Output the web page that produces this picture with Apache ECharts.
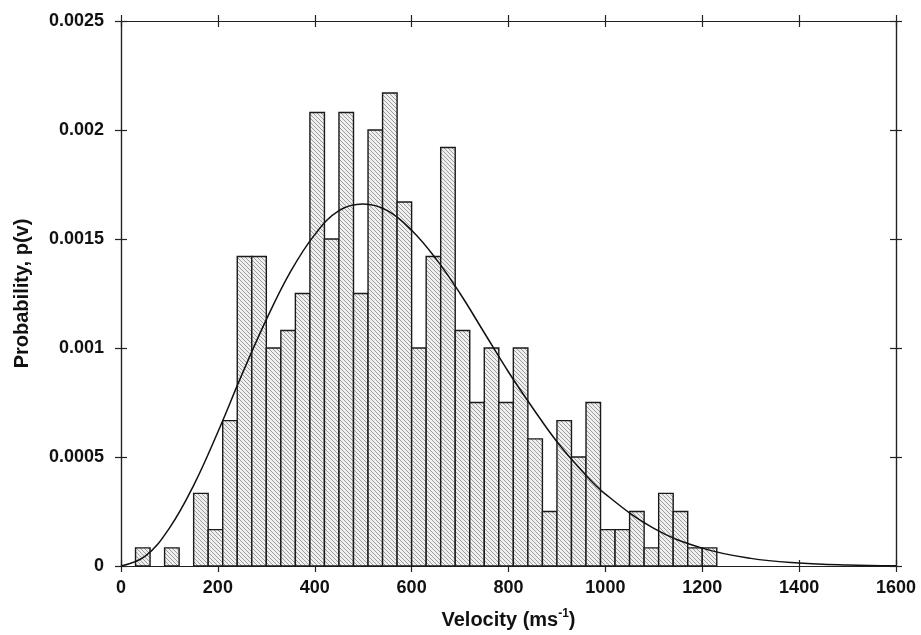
<!DOCTYPE html>
<html>
<head>
<meta charset="utf-8">
<script src="https://cdn.jsdelivr.net/npm/echarts@6/dist/echarts.min.js"></script>
<style>
  html, body { margin: 0; padding: 0; background: #fff; }
  #chart { width: 921px; height: 635px; }
</style>
</head>
<body>
<div id="chart"></div>
<script>
// histogram bins (left edge, m/s), width 30
const binWidth = 30
const binLeft = [0, 30, 60, 90, 120, 150, 180, 210, 240, 270, 300, 330, 360, 390, 420, 450, 480, 510, 540, 570,
  600, 630, 660, 690, 720, 750, 780, 810, 840, 870, 900, 930, 960, 990, 1020, 1050, 1080, 1110, 1140, 1170, 1200]
const binProb = [0, 0.0000833, 0, 0.0000833, 0, 0.000333, 0.000167, 0.000667, 0.00142, 0.00142,
  0.001, 0.00108, 0.00125, 0.00208, 0.0015, 0.00208, 0.00125, 0.002, 0.00217, 0.00167,
  0.001, 0.00142, 0.00192, 0.00108, 0.00075, 0.001, 0.00075, 0.001, 0.000583, 0.00025,
  0.000667, 0.0005, 0.00075, 0.000167, 0.000167, 0.00025, 0.0000833, 0.000333, 0.00025, 0.0000833, 0.0000833]

// fitted curve
const curveV = [0, 50, 100, 150, 200, 250, 300, 350, 400, 450, 500, 550, 600, 650, 700, 750, 800,
  850, 900, 950, 1000, 1100, 1200, 1300, 1400, 1500, 1600]
const curveP = [0, 0.000045, 0.000174, 0.00037, 0.000615, 0.00088, 0.00113, 0.00135, 0.00152, 0.00163,
  0.00166, 0.00163, 0.00154, 0.00141, 0.00125, 0.00107, 0.00089, 0.000725, 0.00057, 0.00044,
  0.00033, 0.000173, 0.000082, 0.000035, 0.000014, 0.000005, 0.0000015]

const xTicks = { min: 0, max: 1600, interval: 200 }
const yTicks = { min: 0, max: 0.0025, interval: 0.0005 }

// hatch pattern for the bars
const hatch = document.createElement('canvas')
hatch.width = 4
hatch.height = 4
const hc = hatch.getContext('2d')
hc.fillStyle = '#efefef'
hc.fillRect(0, 0, 4, 4)
hc.fillStyle = '#9e9e9e'
for (let i = 0; i < 4; i++) hc.fillRect(i, i, 1, 1)

const font = 'Liberation Sans'
const lineCol = '#222'

function xAxisCfg(pos, inside, labels) {
  return {
    type: 'value', position: pos, ...xTicks,
    axisLine: { show: true, onZero: false, lineStyle: { color: lineCol, width: 1.2 } },
    axisTick: { show: true, inside: inside, length: 6, lineStyle: { color: lineCol, width: 1.2 } },
    axisLabel: {
      show: labels, margin: 13, color: '#111', fontFamily: font, fontWeight: 'bold', fontSize: 18,
      formatter: v => String(v)
    },
    splitLine: { show: false }
  }
}
function yAxisCfg(pos, inside, labels) {
  return {
    type: 'value', position: pos, ...yTicks,
    axisLine: { show: true, onZero: false, lineStyle: { color: lineCol, width: 1.2 } },
    axisTick: { show: true, inside: inside, length: 6, lineStyle: { color: lineCol, width: 1.2 } },
    axisLabel: {
      show: labels, margin: 17, color: '#111', fontFamily: font, fontWeight: 'bold', fontSize: 18,
      formatter: v => String(+v.toFixed(4))
    },
    splitLine: { show: false }
  }
}

const xMain = xAxisCfg('bottom', false, true)
xMain.name = 'Velocity (ms{sup|-1})'
xMain.nameLocation = 'middle'
xMain.nameGap = 42
xMain.nameTextStyle = {
  color: '#111', fontFamily: font, fontWeight: 'bold', fontSize: 20,
  rich: { sup: { fontFamily: font, fontWeight: 'bold', fontSize: 12, color: '#111', padding: [0, 0, 12, 0] } }
}
const yMain = yAxisCfg('left', false, true)
yMain.name = 'Probability, p(v)'
yMain.nameLocation = 'middle'
yMain.nameGap = 89
yMain.nameTextStyle = { color: '#111', fontFamily: font, fontWeight: 'bold', fontSize: 20 }

const myChart = echarts.init(document.getElementById('chart'))
const option = {
  animation: false,
  backgroundColor: '#fff',
  grid: { left: 121, right: 25, top: 21, bottom: 68 },
  xAxis: [xMain, xAxisCfg('bottom', true, false), xAxisCfg('top', true, false), xAxisCfg('top', false, false)],
  yAxis: [yMain, yAxisCfg('left', true, false), yAxisCfg('right', true, false), yAxisCfg('right', false, false)],
  series: [
    {
      type: 'custom',
      xAxisIndex: 0,
      yAxisIndex: 0,
      data: binLeft.map((b, i) => [b, binProb[i]]),
      renderItem: function (params, api) {
        if (!(api.value(1) > 0)) return null
        const p0 = api.coord([api.value(0), 0])
        const p1 = api.coord([api.value(0) + binWidth, api.value(1)])
        return {
          type: 'rect',
          shape: { x: p0[0], y: p1[1], width: p1[0] - p0[0], height: p0[1] - p1[1] },
          style: { fill: { image: hatch, repeat: 'repeat' }, stroke: '#1a1a1a', lineWidth: 1.4 }
        }
      },
      z: 2
    },
    {
      type: 'line',
      xAxisIndex: 0,
      yAxisIndex: 0,
      data: curveV.map((v, i) => [v, curveP[i]]),
      smooth: 0.4,
      symbol: 'none',
      lineStyle: { color: '#111', width: 1.5 },
      z: 3
    }
  ]
}
myChart.setOption(option)
</script>
</body>
</html>
